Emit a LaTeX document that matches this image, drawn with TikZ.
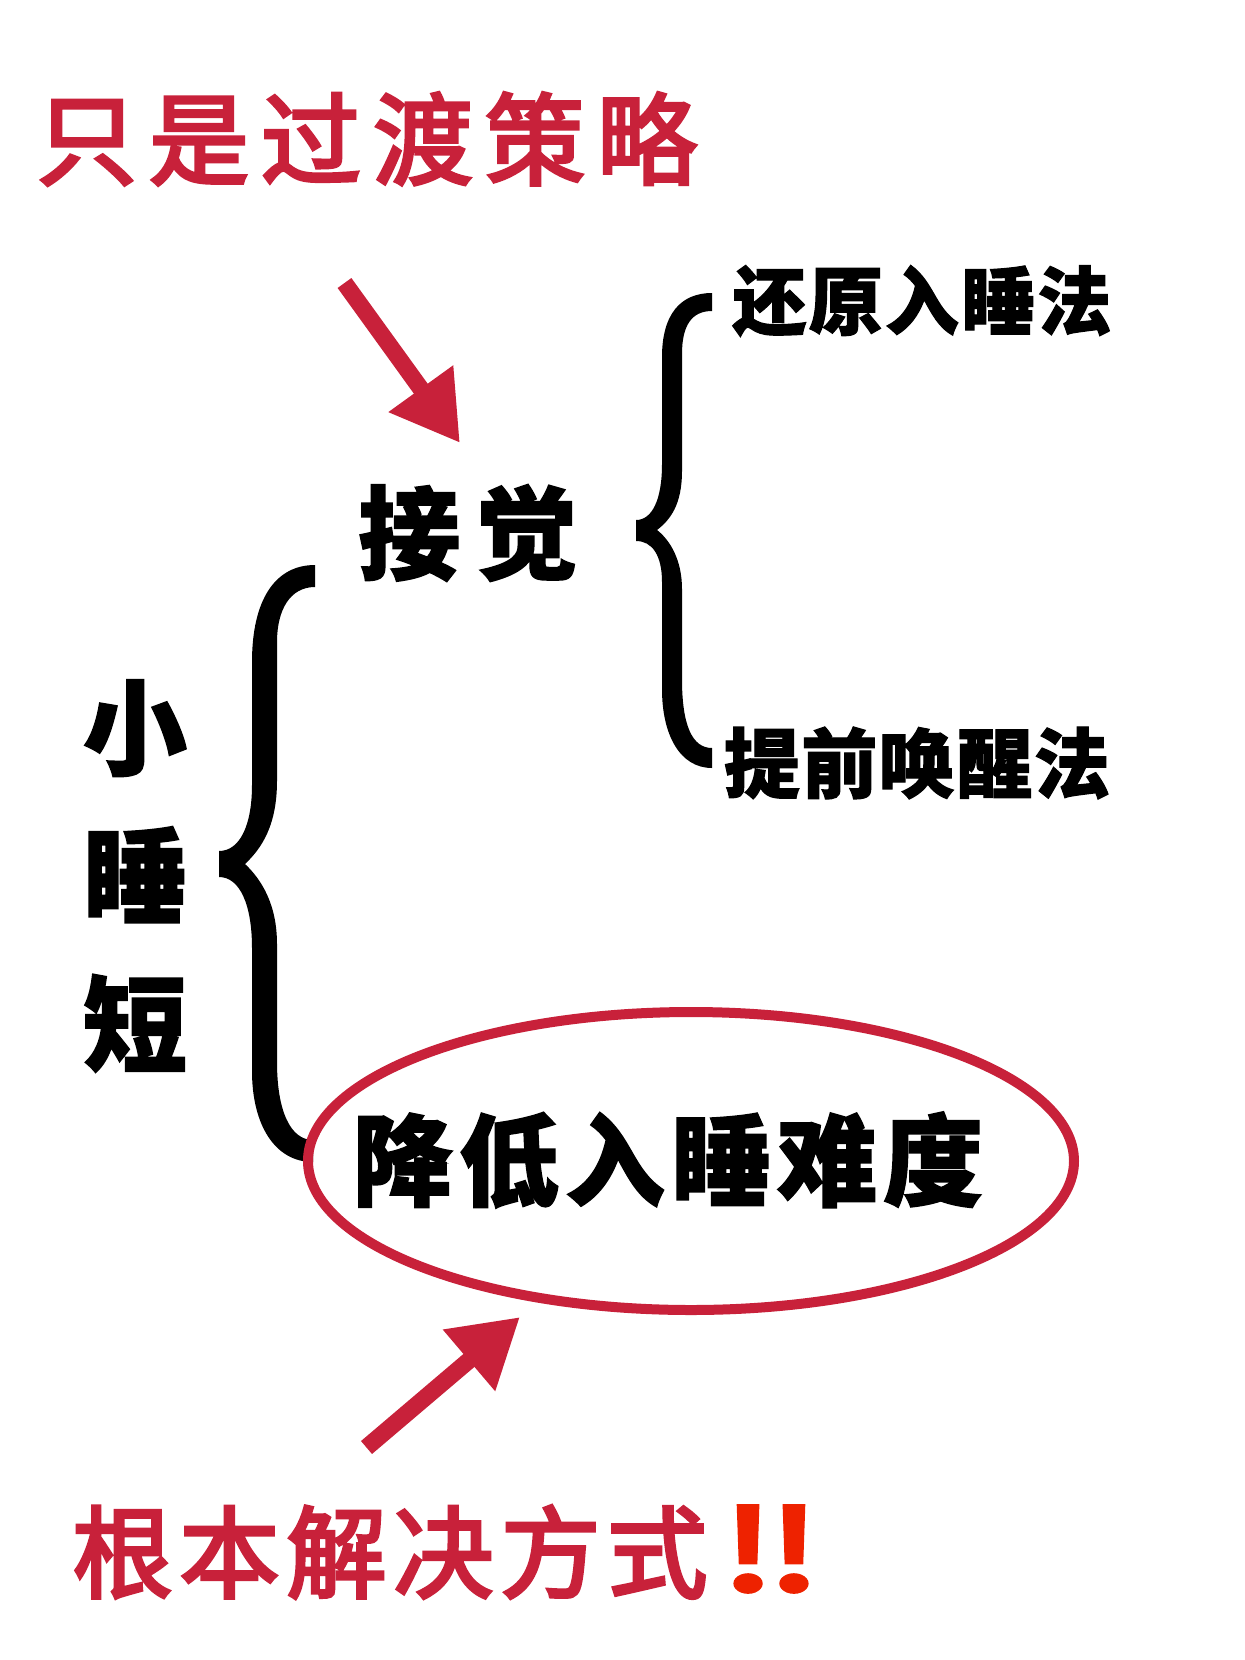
\documentclass[tikz,border=0pt]{standalone}
\usepackage{fontspec}
\usetikzlibrary{arrows.meta,shapes.geometric}
\newfontfamily\cjkheavy{Noto Sans CJK SC}[BoldFeatures={FakeBold=1.5}]
\newfontfamily\cjkred{Noto Sans CJK SC}[UprightFeatures={FakeBold=3.5}]
\newfontfamily\bangfont{Noto Emoji}[FakeStretch=1.45,FakeBold=1.5]
\definecolor{rosered}{HTML}{C8213A}
\definecolor{bangred}{HTML}{EE2200}
\newcommand{\txtsize}[2]{\fontsize{#1}{#1}\selectfont\addfontfeature{LetterSpace=#2}}
\tikzset{
  lbl/.style={inner sep=0pt,outer sep=0pt,anchor=center},
  redlbl/.style={lbl,text=rosered},
  blacklbl/.style={lbl,text=black},
  callout/.style={draw=rosered,line width=17pt,
    -{Triangle[length=67pt,width=#1]},fill=rosered},
  bracefill/.style={fill=black,draw=none},
  ring/.style={ellipse,draw=rosered,line width=10pt,minimum width=766pt,minimum height=298pt,inner sep=0pt}
}
\begin{document}
\begin{tikzpicture}[x=1pt,y=-1pt]
\useasboundingbox (0,0) rectangle (1245,1660);
\fill[white] (0,0) rectangle (1245,1660);

% texts
\node[redlbl] (title) at (367,139) {\cjkred\txtsize{100}{12}只是过渡策略};
\node[blacklbl] (jiejue) at (468,533) {\cjkheavy\bfseries\txtsize{102}{15}接觉};
\node[blacklbl] (huanyuan) at (922,301) {\cjkheavy\bfseries\txtsize{74}{3}还原入睡法};
\node[blacklbl] (tiqian) at (917,763) {\cjkheavy\bfseries\txtsize{76}{2}提前唤醒法};
\node[blacklbl,align=center,font=\cjkheavy\bfseries\fontsize{104}{148}\selectfont] (xiaoshui) at (135,876) {小\\睡\\短};
\node[blacklbl] (jiangdi) at (668,1160) {\cjkheavy\bfseries\txtsize{100}{6}降低入睡难度};
\node[redlbl] (genben) at (390,1552) {\cjkred\txtsize{100}{7}根本解决方式};
\node[text=bangred,lbl] (bang) at (771,1549) {\bangfont\fontsize{87}{87}\selectfont ‼};

% braces
\fill[bracefill] (712,293) .. controls (680,293) and (662,315) .. (662,357)
  -- (662,464) .. controls (662,500) and (652,520) .. (636,520)
  -- (636,541) .. controls (652,541) and (662,555) .. (662,582)
  -- (662,689) .. controls (662,735) and (680,768) .. (712,768)
  -- (712,748) .. controls (692,748) and (682,725) .. (682,679)
  -- (682,589) .. controls (682,560) and (670,540) .. (657,530)
  .. controls (670,520) and (682,505) .. (682,471)
  -- (682,354) .. controls (682,325) and (692,311) .. (712,311) -- cycle;
\fill[bracefill] (315,565) .. controls (275,565) and (252,600) .. (252,662)
  -- (252,785) .. controls (252,825) and (240,851) .. (219,851)
  -- (219,877) .. controls (240,877) and (252,905) .. (252,948)
  -- (252,1071) .. controls (252,1125) and (275,1162) .. (313,1162)
  -- (313,1140) .. controls (290,1140) and (277,1110) .. (277,1062)
  -- (277,944) .. controls (277,905) and (262,880) .. (245,864)
  .. controls (262,848) and (277,825) .. (277,781)
  -- (277,642) .. controls (277,610) and (290,587) .. (315,587) -- cycle;

% ring
\node[ring] (ring) at (691,1161) {};

% arrows
\coordinate (a1tail) at (344.5,283);
\coordinate (a1tip) at (460,443);
\coordinate (a2tail) at (366.5,1447.5);
\coordinate (a2tip) at (520,1317);
\draw[callout=75pt] (a1tail) -- (a1tip);
\draw[callout=76pt] (a2tail) -- (a2tip);
\end{tikzpicture}
\end{document}
